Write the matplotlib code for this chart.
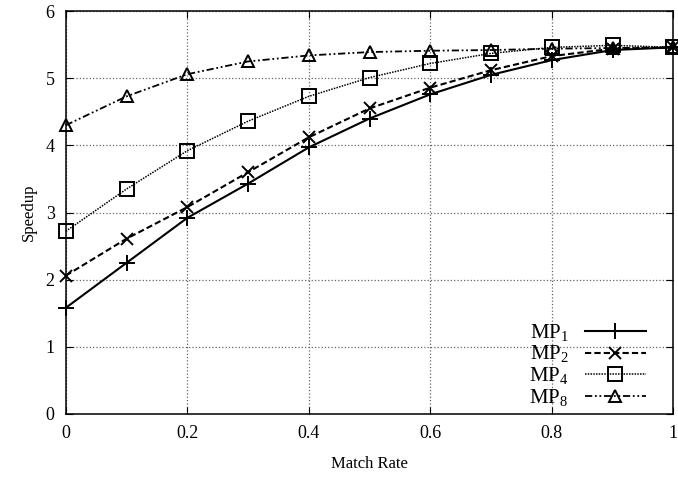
import numpy as np
import matplotlib
matplotlib.use("Agg")
import matplotlib.pyplot as plt

plt.rcParams['font.family'] = ['Liberation Serif', 'DejaVu Serif']
plt.rcParams['mathtext.fontset'] = 'custom'
plt.rcParams['mathtext.rm'] = 'Liberation Serif'

match_rate = [0.0, 0.1, 0.2, 0.3, 0.4, 0.5, 0.6, 0.7, 0.8, 0.9, 1.0]
mp1 = [1.58, 2.25, 2.92, 3.43, 3.97, 4.40, 4.76, 5.05, 5.27, 5.42, 5.46]
mp2 = [2.06, 2.61, 3.08, 3.60, 4.12, 4.55, 4.86, 5.12, 5.33, 5.44, 5.46]
mp4 = [2.72, 3.35, 3.92, 4.36, 4.73, 5.01, 5.22, 5.37, 5.46, 5.49, 5.46]
mp8 = [4.30, 4.73, 5.06, 5.25, 5.34, 5.39, 5.41, 5.42, 5.44, 5.45, 5.46]

labels = [r'MP$_1$', r'MP$_2$', r'MP$_4$', r'MP$_8$']
x_ticks = [0, 0.2, 0.4, 0.6, 0.8, 1]
x_ticklabels = ['0', '0.2', '0.4', '0.6', '0.8', '1']
y_ticks = [0, 1, 2, 3, 4, 5, 6]

fig = plt.figure(figsize=(6.78, 4.83), dpi=100)
ax = fig.add_axes([0.097, 0.143, 0.896, 0.834])

# line styles roughly like gnuplot's dash types
ax.plot(match_rate, mp1, color='k', lw=1.5, ls='-', marker='+', ms=11, mew=1.4,
        label=labels[0], clip_on=False, zorder=3)
ax.plot(match_rate, mp2, color='k', lw=1.5, ls=(0, (3, 1.5)), marker='x', ms=9,
        mew=1.4, label=labels[1], clip_on=False, zorder=3)
ax.plot(match_rate, mp4, color='k', lw=1.1, ls=(0, (1, 0.8)), marker='s', ms=10,
        mew=1.4, mfc='none', label=labels[2], clip_on=False, zorder=3)
ax.plot(match_rate, mp8, color='k', lw=1.3, ls=(0, (4, 1.5, 1, 1.5, 1, 1.5)),
        marker='^', ms=9, mew=1.4, mfc='none', label=labels[3], clip_on=False,
        zorder=3)

ax.set_xlim(0, 1)
ax.set_ylim(0, 6)
ax.set_xticks(x_ticks)
ax.set_xticklabels(x_ticklabels)
ax.set_yticks(y_ticks)
ax.tick_params(direction='in', top=True, right=True, labelsize=13, length=5,
               pad=8)
ax.grid(True, color='#666666', ls=':', lw=0.9)
for s in ax.spines.values():
    s.set_linewidth(1.1)

ax.set_xlabel('Match Rate', fontsize=12, labelpad=10)
ax.set_ylabel('Speedup', fontsize=12, labelpad=6)

ax.legend(loc='lower right', bbox_to_anchor=(0.975, -0.018), frameon=False,
          markerfirst=False, fontsize=15, handlelength=2.9, labelspacing=0.0,
          handletextpad=0.8, borderaxespad=0.2)

fig.savefig('out.png', dpi=100)
